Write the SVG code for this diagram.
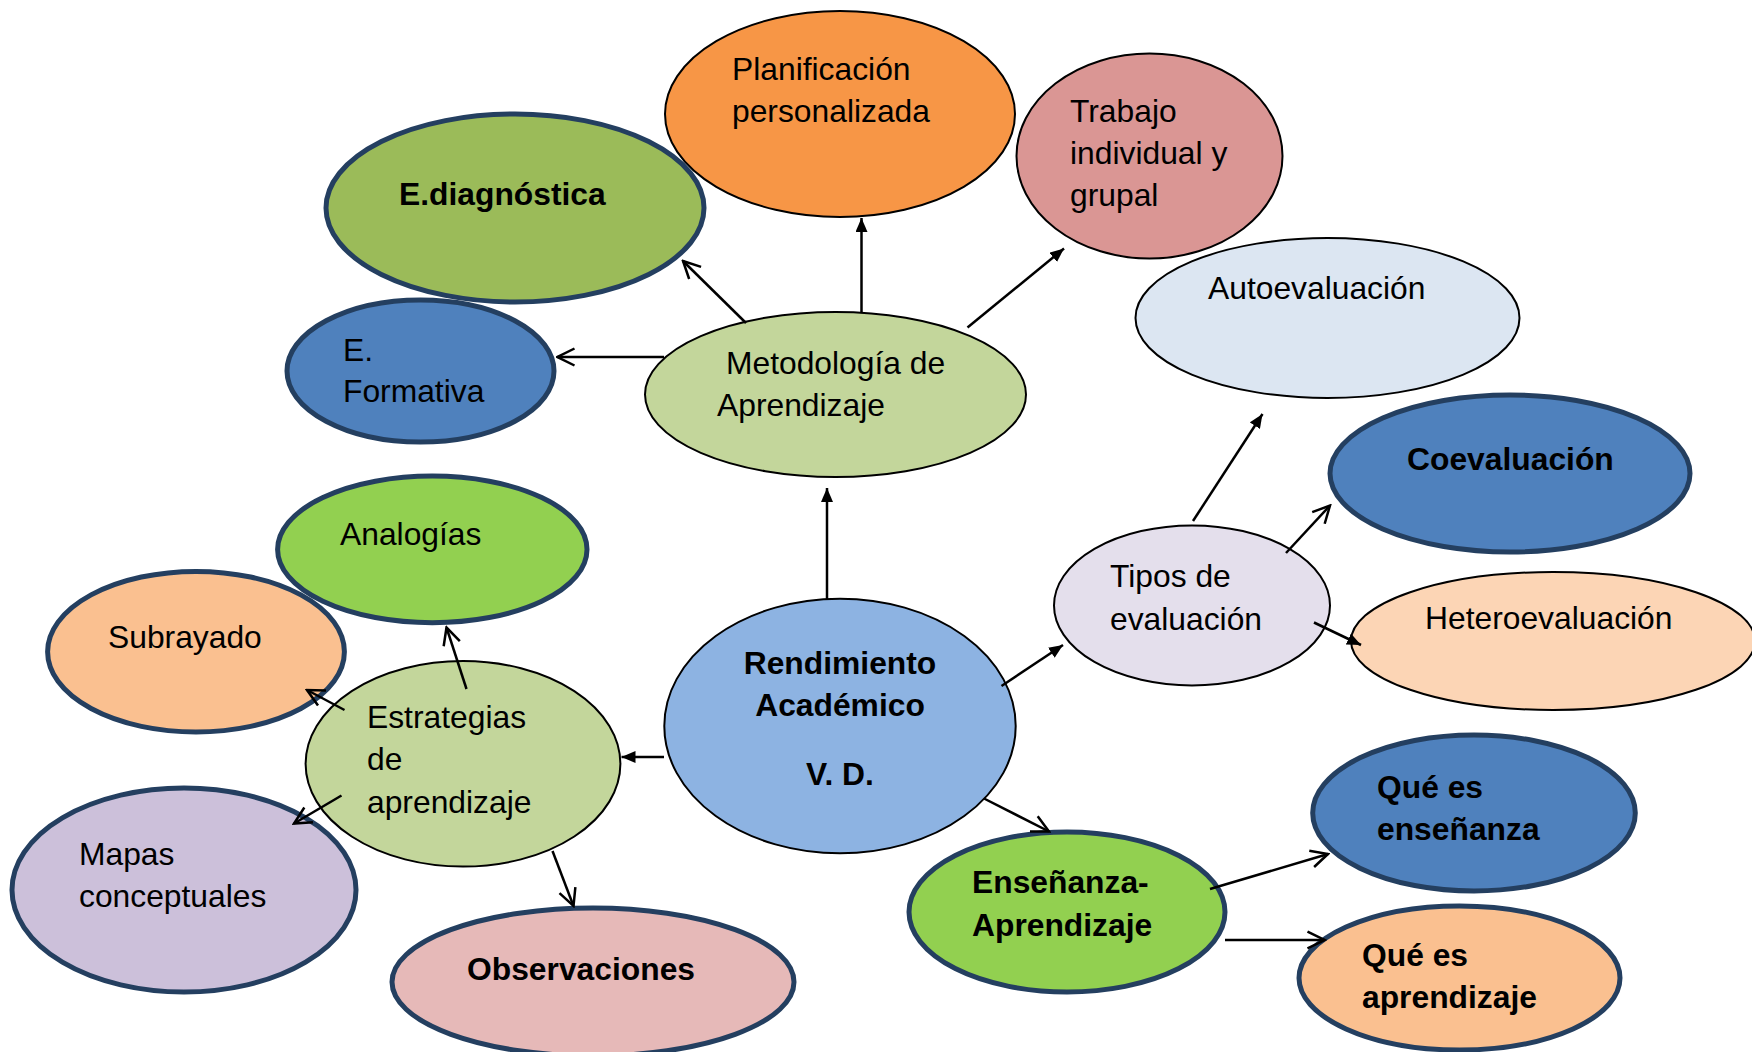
<svg xmlns="http://www.w3.org/2000/svg" width="1752" height="1052" viewBox="0 0 1752 1052">
<style>
.n{font-family:"Liberation Sans",Arial,sans-serif;font-size:31.8px;fill:#000}
.b{font-weight:bold}
.thin{stroke:#000;stroke-width:2}
.thick{stroke:#243F60;stroke-width:5}
.c line{stroke:#000;stroke-width:2.5}
</style>
<defs>
<marker id="f" viewBox="0 0 14 12" refX="14" refY="6" markerWidth="14" markerHeight="12" orient="auto" markerUnits="userSpaceOnUse"><path d="M0,0 L14,6 L0,12 z" fill="#000"/></marker>
<marker id="o" viewBox="0 0 20 20" refX="18" refY="10" markerWidth="20" markerHeight="20" orient="auto" markerUnits="userSpaceOnUse"><path d="M1,1.5 L18,10 L1,18.5" fill="none" stroke="#000" stroke-width="2.5"/></marker>
</defs>
<rect width="1752" height="1052" fill="#fff"/>
<g id="planificacion"><ellipse cx="840" cy="114" rx="175" ry="103" fill="#F79646" class="thin"/><text class="n" x="732" y="80">Planificación</text><text class="n" x="732" y="122">personalizada</text></g>
<g id="ediagnostica"><ellipse cx="515" cy="208" rx="189" ry="94" fill="#9BBB59" class="thick"/><text class="n b" x="399" y="205">E.diagnóstica</text></g>
<g id="trabajo"><ellipse cx="1149.5" cy="156" rx="133" ry="102.5" fill="#DA9694" class="thin"/><text class="n" x="1070" y="122">Trabajo</text><text class="n" x="1070" y="164">individual y</text><text class="n" x="1070" y="206">grupal</text></g>
<g id="autoevaluacion"><ellipse cx="1327.5" cy="318" rx="192" ry="80" fill="#DCE6F2" class="thin"/><text class="n" x="1208" y="299">Autoevaluación</text></g>
<g id="coevaluacion"><ellipse cx="1510" cy="473.5" rx="180" ry="78.5" fill="#4F81BD" class="thick"/><text class="n b" x="1407" y="470">Coevaluación</text></g>
<g id="metodologia"><ellipse cx="835.5" cy="394.5" rx="190.5" ry="82.5" fill="#C3D69B" class="thin"/><text class="n" x="726" y="374">Metodología de</text><text class="n" x="717" y="416">Aprendizaje</text></g>
<g id="eformativa"><ellipse cx="420.5" cy="371" rx="133.5" ry="71" fill="#4F81BD" class="thick"/><text class="n" x="343" y="361">E.</text><text class="n" x="343" y="402">Formativa</text></g>
<g id="analogias"><ellipse cx="432.3" cy="549.4" rx="154.7" ry="73.3" fill="#92D050" class="thick"/><text class="n" x="340" y="545">Analogías</text></g>
<g id="subrayado"><ellipse cx="196" cy="651.7" rx="148.4" ry="80.3" fill="#FAC090" class="thick"/><text class="n" x="108" y="648">Subrayado</text></g>
<g id="estrategias"><ellipse cx="463" cy="763.8" rx="157.4" ry="102.8" fill="#C3D69B" class="thin"/><text class="n" x="367" y="728">Estrategias</text><text class="n" x="367" y="770">de</text><text class="n" x="367" y="813">aprendizaje</text></g>
<g id="mapas"><ellipse cx="184" cy="890" rx="172" ry="102" fill="#CCC0DA" class="thick"/><text class="n" x="79" y="865">Mapas</text><text class="n" x="79" y="907">conceptuales</text></g>
<g id="observaciones"><ellipse cx="593" cy="982" rx="201" ry="74" fill="#E6B9B8" class="thick"/><text class="n b" x="467" y="980">Observaciones</text></g>
<g id="rendimiento"><ellipse cx="840" cy="726" rx="175.7" ry="127.3" fill="#8DB3E2" class="thin"/><text class="n b" x="840" y="674" text-anchor="middle">Rendimiento</text><text class="n b" x="840" y="716" text-anchor="middle">Académico</text><text class="n b" x="840" y="785" text-anchor="middle">V. D.</text></g>
<g id="tipos"><ellipse cx="1192" cy="605.4" rx="138" ry="80" fill="#E4DFEC" class="thin"/><text class="n" x="1110" y="587">Tipos de</text><text class="n" x="1110" y="630">evaluación</text></g>
<g id="heteroevaluacion"><ellipse cx="1553" cy="641" rx="202" ry="69" fill="#FCD5B5" class="thin"/><text class="n" x="1425" y="629">Heteroevaluación</text></g>
<g id="ensenanza-aprendizaje"><ellipse cx="1067" cy="912" rx="158" ry="80" fill="#92D050" class="thick"/><text class="n b" x="972" y="893">Enseñanza-</text><text class="n b" x="972" y="936">Aprendizaje</text></g>
<g id="que-es-ensenanza"><ellipse cx="1474" cy="813" rx="161.3" ry="78" fill="#4F81BD" class="thick"/><text class="n b" x="1377" y="798">Qué es</text><text class="n b" x="1377" y="840">enseñanza</text></g>
<g id="que-es-aprendizaje"><ellipse cx="1459.5" cy="978" rx="160.5" ry="72" fill="#FAC090" class="thick"/><text class="n b" x="1362" y="966">Qué es</text><text class="n b" x="1362" y="1008">aprendizaje</text></g>
<g id="connectors" class="c">
<line x1="746" y1="323" x2="683" y2="261" marker-end="url(#o)"/>
<line x1="861.5" y1="312" x2="861.5" y2="218" marker-end="url(#f)"/>
<line x1="664" y1="357" x2="557.5" y2="357" marker-end="url(#o)"/>
<line x1="967.5" y1="327.5" x2="1064" y2="248.5" marker-end="url(#f)"/>
<line x1="827" y1="599" x2="827" y2="488" marker-end="url(#f)"/>
<line x1="1193" y1="521" x2="1262.5" y2="414" marker-end="url(#f)"/>
<line x1="1286" y1="553" x2="1330" y2="505.5" marker-end="url(#o)"/>
<line x1="1314" y1="622.5" x2="1361" y2="645" marker-end="url(#f)"/>
<line x1="1001.5" y1="686" x2="1063" y2="645" marker-end="url(#f)"/>
<line x1="984" y1="798.5" x2="1049" y2="831.5" marker-end="url(#o)"/>
<line x1="1210" y1="889" x2="1328" y2="854" marker-end="url(#o)"/>
<line x1="1225" y1="940" x2="1324.5" y2="940" marker-end="url(#o)"/>
<line x1="664" y1="757" x2="621.5" y2="757" marker-end="url(#f)"/>
<line x1="466.5" y1="689" x2="446.5" y2="627.5" marker-end="url(#o)"/>
<line x1="344.5" y1="710" x2="307" y2="690" marker-end="url(#o)"/>
<line x1="341.5" y1="795.5" x2="294" y2="823.5" marker-end="url(#o)"/>
<line x1="552.5" y1="851" x2="573.5" y2="906" marker-end="url(#o)"/>
</g>
</svg>
